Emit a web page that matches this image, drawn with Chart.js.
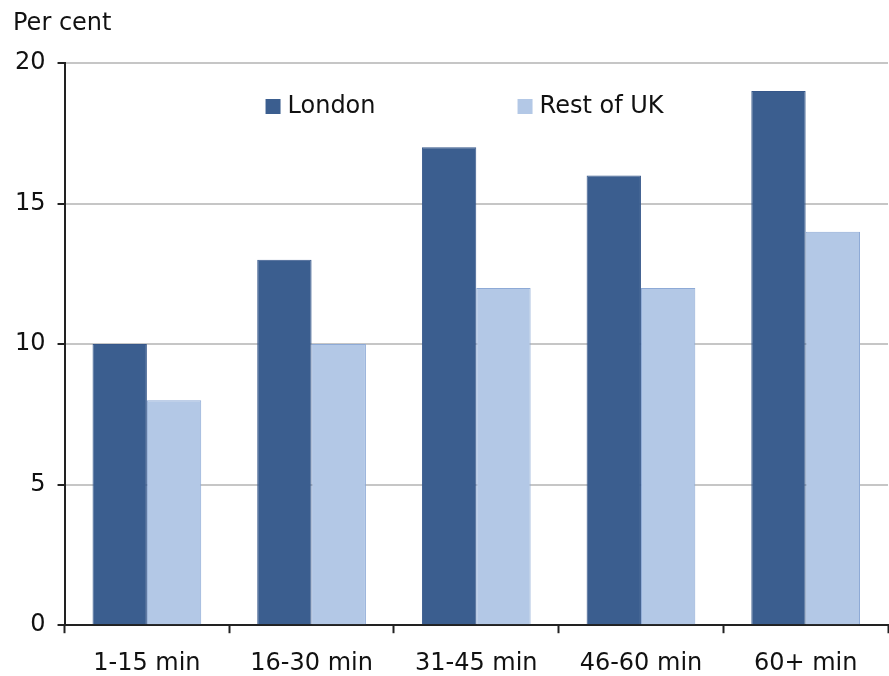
<!DOCTYPE html>
<html>
<head>
<meta charset="utf-8">
<script src="https://cdn.jsdelivr.net/npm/chart.js@4/dist/chart.umd.min.js"></script>
<style>
  html, body { margin: 0; padding: 0; background: #ffffff; }
  #wrap { width: 889px; height: 676px; }
</style>
</head>
<body>
<div id="wrap"><canvas id="c" width="889" height="676"></canvas></div>
<script>
// Commute time bands and share of workers (per cent)
const categories = ['1-15 min', '16-30 min', '31-45 min', '46-60 min', '60+ min'];
const londonValues = [10, 13, 17, 16, 19];
const restOfUkValues = [8, 10, 12, 12, 14];
const yTicks = [0, 5, 10, 15, 20];

const FONT = 'DejaVu Sans';
const FONT_SIZE = 24;
const TEXT = '#111111';

// Unit label above the value axis and the in-plot legend
const annotations = {
  id: 'annotations',
  afterDraw(chart) {
    const ctx = chart.ctx;
    const area = chart.chartArea;
    ctx.save();
    ctx.font = FONT_SIZE + 'px "' + FONT + '"';
    ctx.fillStyle = TEXT;
    ctx.textBaseline = 'middle';
    ctx.textAlign = 'left';
    ctx.fillText('Per cent', 13, 24);

    const items = [
      { ds: chart.data.datasets[0], x: area.left + 201 },
      { ds: chart.data.datasets[1], x: area.left + 453 }
    ];
    const y = area.top + 43;
    items.forEach(it => {
      ctx.fillStyle = it.ds.backgroundColor;
      ctx.fillRect(it.x, y - 7, 15, 15);
      ctx.fillStyle = TEXT;
      ctx.fillText(it.ds.label, it.x + 22, y + 1);
    });
    ctx.restore();
  }
};

new Chart(document.getElementById('c'), {
  type: 'bar',
  data: {
    labels: categories,
    datasets: [
      {
        label: 'London',
        data: londonValues,
        backgroundColor: '#3b5e8f',
        borderColor: '#36578a',
        borderWidth: 1,
        barPercentage: 1.0,
        categoryPercentage: 0.66
      },
      {
        label: 'Rest of UK',
        data: restOfUkValues,
        backgroundColor: '#b3c8e6',
        borderColor: '#8eaad6',
        borderWidth: 1,
        barPercentage: 1.0,
        categoryPercentage: 0.66
      }
    ]
  },
  options: {
    responsive: false,
    animation: false,
    devicePixelRatio: 1,
    layout: { padding: { top: 63, left: 3, right: 1, bottom: -18 } },
    plugins: {
      legend: { display: false },
      title: { display: false },
      tooltip: { enabled: false }
    },
    scales: {
      x: {
        offset: true,
        grid: {
          display: true,
          offset: true,
          drawOnChartArea: false,
          drawTicks: true,
          tickLength: 8,
          tickColor: '#222222',
          tickWidth: 2
        },
        border: { display: true, color: '#222222', width: 2 },
        ticks: {
          color: TEXT,
          font: { family: FONT, size: FONT_SIZE },
          padding: 16,
          maxRotation: 0
        }
      },
      y: {
        min: 0,
        max: 20,
        afterBuildTicks(scale) {
          scale.ticks = yTicks.map(v => ({ value: v }));
        },
        grid: {
          color: '#c6c6c6',
          lineWidth: 2,
          drawTicks: true,
          tickLength: 7,
          tickColor: '#222222',
          tickWidth: 2
        },
        border: { display: true, color: '#222222', width: 2 },
        ticks: {
          color: TEXT,
          font: { family: FONT, size: FONT_SIZE },
          padding: 12
        }
      }
    }
  },
  plugins: [annotations]
});
</script>
</body>
</html>
